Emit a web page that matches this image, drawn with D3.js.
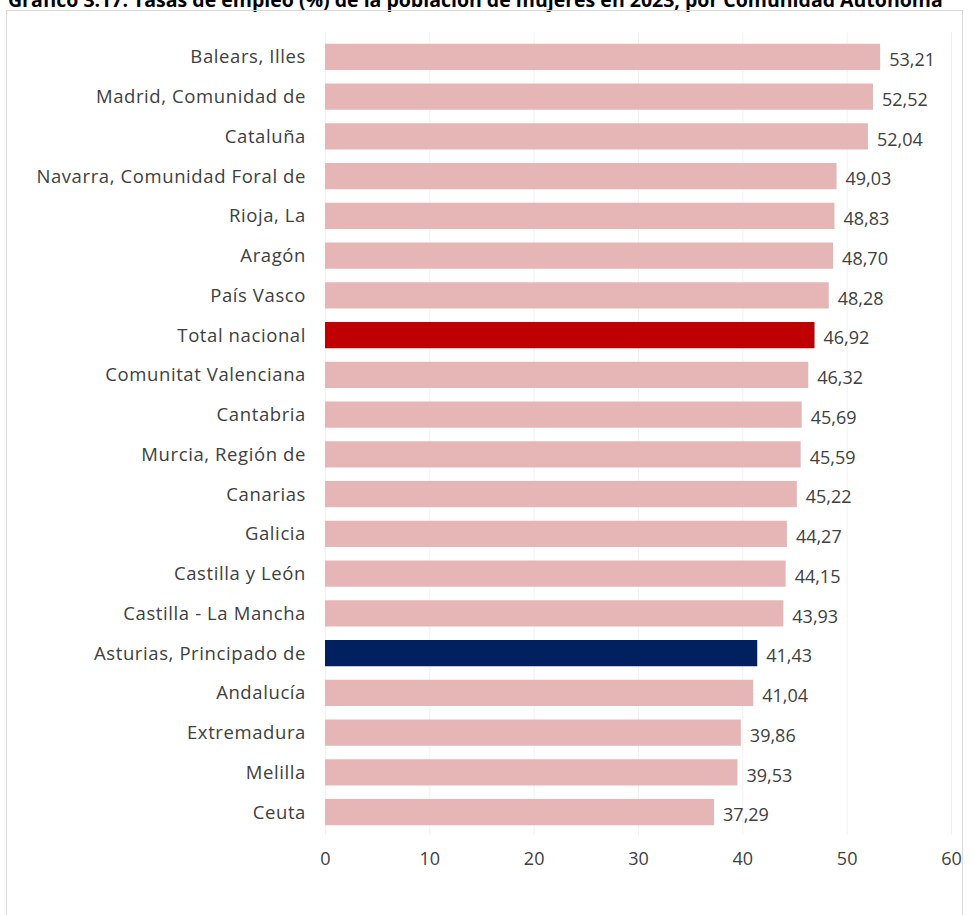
<!DOCTYPE html>
<html><head><meta charset="utf-8">
<script src="https://cdn.jsdelivr.net/npm/d3@7"></script>
<style>body{margin:0;background:#fff;} svg{display:block;}</style>
</head><body>
<svg id="c" width="974" height="915"></svg>
<script>
const categories = ["Balears, Illes","Madrid, Comunidad de","Cataluña","Navarra, Comunidad Foral de","Rioja, La","Aragón","País Vasco","Total nacional","Comunitat Valenciana","Cantabria","Murcia, Región de","Canarias","Galicia","Castilla y León","Castilla - La Mancha","Asturias, Principado de","Andalucía","Extremadura","Melilla","Ceuta"];
const values = [53.21,52.52,52.04,49.03,48.83,48.70,48.28,46.92,46.32,45.69,45.59,45.22,44.27,44.15,43.93,41.43,41.04,39.86,39.53,37.29];
const ticks = [0,10,20,30,40,50,60];
const title = "Gráfico 3.17. Tasas de empleo (%) de la población de mujeres en 2023, por Comunidad Autónoma";
const highlight = {"Total nacional":"#c00000","Asturias, Principado de":"#002060"};
const baseColor = "#e6b5b6";

const svg = d3.select("#c");
const font = "'Open Sans', sans-serif";

svg.append("text").attr("x",8).attr("y",7).attr("font-family","'Open Sans', sans-serif")
  .attr("font-weight","bold").attr("font-size",19.5).attr("fill","#000").text(title);

// frame
svg.append("rect").attr("x",6.5).attr("y",10.5).attr("width",956).attr("height",1000)
  .attr("fill","none").attr("stroke","#d9d9d9");

const x = d3.scaleLinear().domain([0,60]).range([325,951]);
const y = d3.scaleBand().domain(categories).range([37,832]).paddingInner(0.34).paddingOuter(0.17);

// grid
svg.append("g").selectAll("line").data(ticks).join("line")
  .attr("x1",d=>x(d)+0.5).attr("x2",d=>x(d)+0.5).attr("y1",32).attr("y2",835)
  .attr("stroke","#f1f1f1").attr("stroke-width",1);

svg.append("g").selectAll("rect").data(categories).join("rect")
  .attr("x",x(0)).attr("y",d=>y(d)).attr("height",y.bandwidth())
  .attr("width",(d,i)=>x(values[i])-x(0))
  .attr("fill",d=>highlight[d]||baseColor);

svg.append("g").selectAll("text").data(categories).join("text")
  .attr("x",306).attr("y",d=>y(d)+y.bandwidth()/2).attr("dy","0.35em")
  .attr("text-anchor","end").attr("font-family",font).attr("font-size",18.5).attr("fill","#404040")
  .attr("letter-spacing",0.6)
  .text(d=>d);

svg.append("g").selectAll("text").data(categories).join("text")
  .attr("x",(d,i)=>x(values[i])+9).attr("y",d=>y(d)+y.bandwidth()/2+3).attr("dy","0.35em")
  .attr("font-family",font).attr("font-size",18).attr("fill","#404040")
  .text((d,i)=>d3.format(".2f")(values[i]).replace(".",","));

const ax = d3.axisBottom(x).tickValues(ticks).tickSize(0).tickPadding(0);
const g = svg.append("g").attr("transform","translate(0,852)").call(ax);
g.select(".domain").remove();
g.selectAll("text").attr("font-family",font).attr("font-size",18).attr("fill","#404040").attr("dy","0.71em");
</script>
</body></html>
